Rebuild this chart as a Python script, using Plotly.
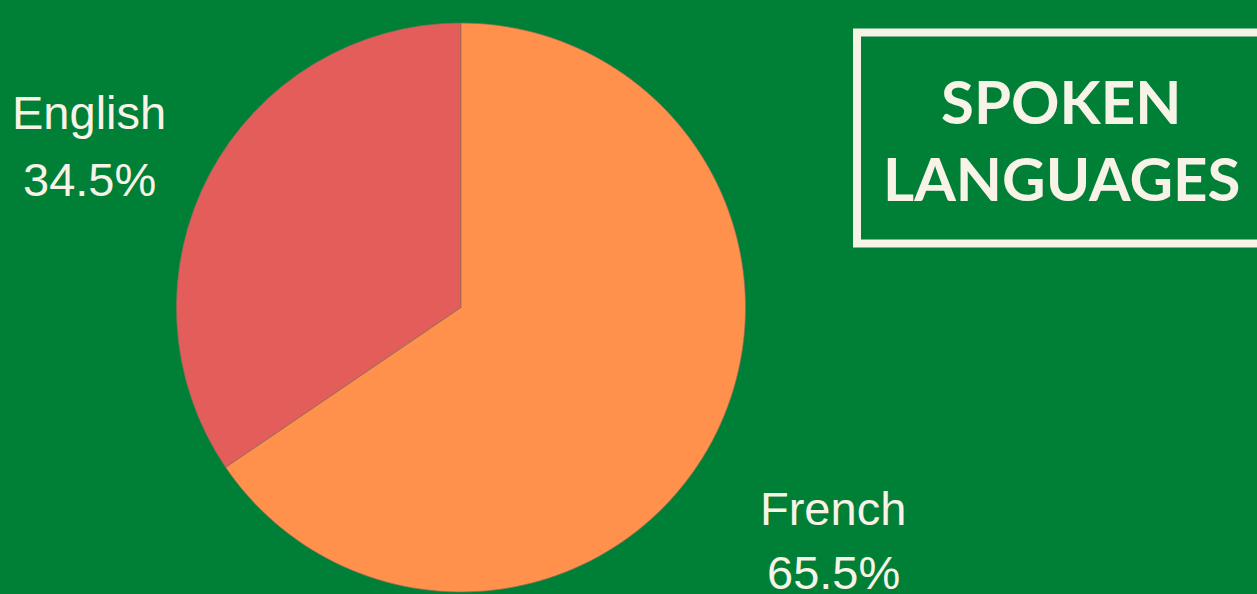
import plotly.graph_objects as go

# Data
languages = ["English", "French"]
shares = [34.5, 65.5]
slice_colors = ["#E35D5B", "#FF914D"]
title_lines = ["SPOKEN", "LANGUAGES"]

W, H = 1257, 594
BG = "#007F37"
CREAM = "#F7F3E6"

# pie geometry (pixels)
cx, cy, r = 461, 307.5, 284.5

fig = go.Figure()
fig.add_trace(go.Pie(
    labels=languages,
    values=shares,
    sort=False,
    direction="clockwise",
    rotation=-shares[0] / sum(shares) * 360,
    textinfo="none",
    hoverinfo="label+percent",
    marker=dict(colors=slice_colors, line=dict(color="rgba(140,110,90,0.7)", width=1)),
    domain=dict(x=[(cx - r) / W, (cx + r) / W], y=[(H - cy - r) / H, (H - cy + r) / H]),
    showlegend=False,
))

# label positions (pixel centres: name line, percent line)
label_pos = {"English": (89, 113, 180), "French": (833, 508, 572)}
for name, val in zip(languages, shares):
    x, y1, y2 = label_pos[name]
    for txt, yy in ((name, y1), (f"{val:.1f}%", y2)):
        fig.add_annotation(
            x=x / W, y=1 - yy / H, xref="paper", yref="paper",
            text=txt, showarrow=False, xanchor="center", yanchor="middle",
            font=dict(family="Liberation Sans, Arial, sans-serif", size=47, color=CREAM),
        )

# title box
fig.add_shape(type="rect", xref="paper", yref="paper",
              x0=857 / W, x1=1262 / W, y0=1 - 243.5 / H, y1=1 - 32.5 / H,
              line=dict(color=CREAM, width=8), fillcolor="rgba(0,0,0,0)")

title_y = [101, 178]
for txt, yy in zip(title_lines, title_y):
    fig.add_annotation(
        x=1061 / W, y=1 - yy / H, xref="paper", yref="paper",
        text=f"<b>{txt}</b>", showarrow=False, xanchor="center", yanchor="middle",
        font=dict(family="Lato, 'Noto Sans', sans-serif", size=60, color=CREAM),
    )

fig.update_layout(
    width=W, height=H,
    margin=dict(l=0, r=0, t=0, b=0),
    paper_bgcolor=BG, plot_bgcolor=BG,
)

fig.write_html("out.html", config={"displayModeBar": False},
               post_script="document.body.style.margin='0px';document.body.style.overflow='hidden';")
